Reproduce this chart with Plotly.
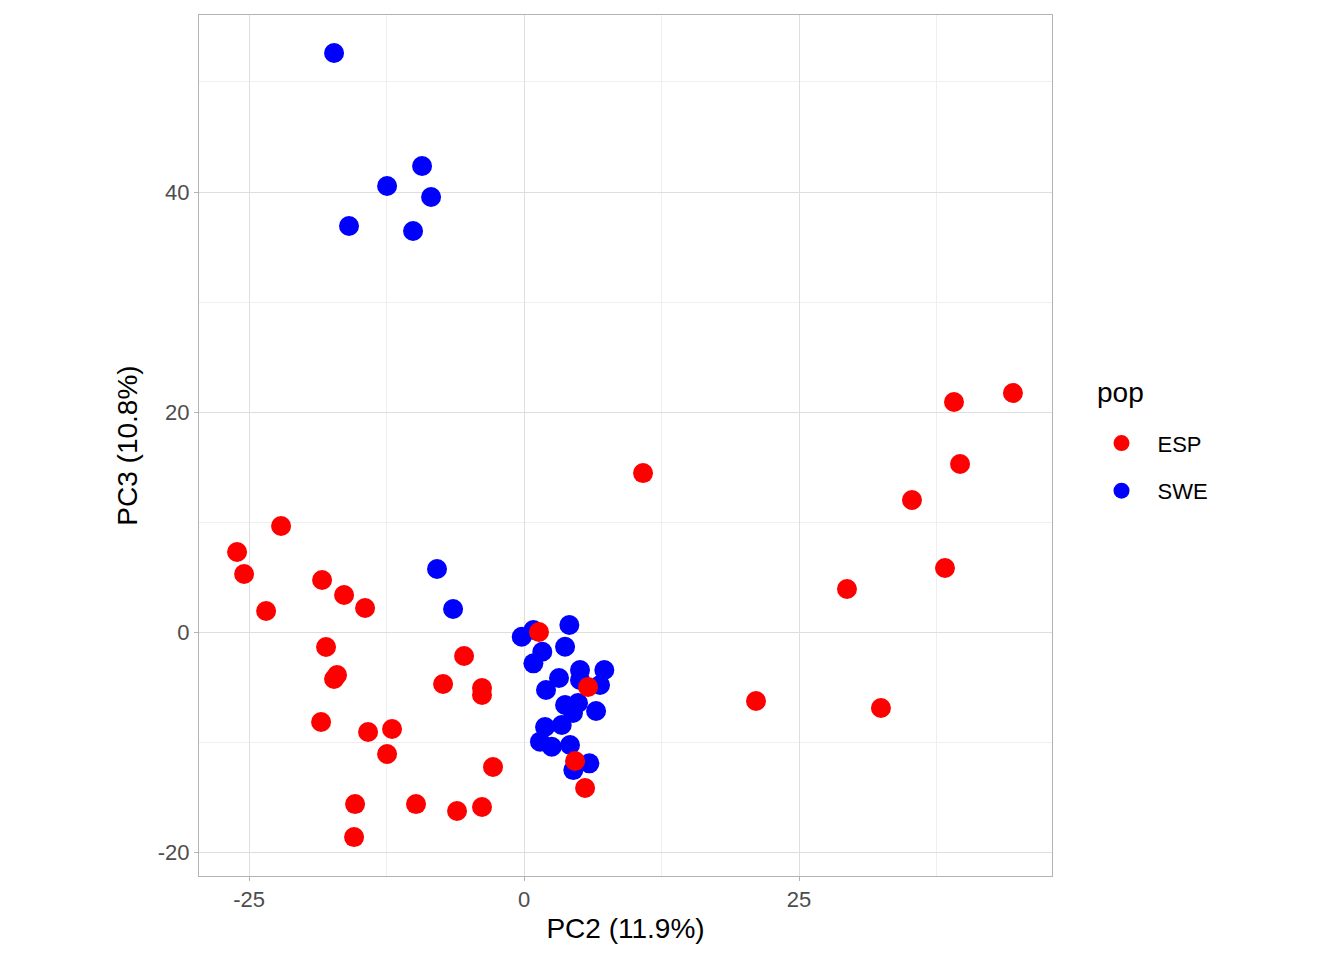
import plotly.graph_objects as go

# PCA scores
esp_pc2 = [44.45, 39.09, 39.64, 10.82, 35.27, 38.27, 29.36, 21.09, 32.45,
           -26.09, -22.09, -25.45, -18.36, -16.36, -23.45, -14.45, -18.0,
           -5.45, -17.0, -17.27, -7.36, -3.82, -3.82, -18.45, -14.18, -12.0,
           -12.45, -2.82, -15.36, -9.82, -6.09, -3.82, -15.45, 1.36, 5.82,
           4.64, 5.55]
esp_pc3 = [21.73, 20.91, 15.27, 14.45, 12.0, 5.82, 3.91, -6.27, -6.91,
           7.27, 9.64, 5.27, 4.73, 3.36, 1.91, 2.18, -1.36,
           -2.18, -3.91, -4.27, -4.73, -5.09, -5.73, -8.18, -9.09, -8.82,
           -11.09, -12.27, -15.64, -15.64, -16.27, -15.91, -18.64, 0.0, -5.0,
           -11.73, -14.18]

swe_pc2 = [-17.27, -9.27, -12.45, -8.45, -15.91, -10.09, -7.91, -6.45,
           -0.21, 0.85, 4.12, 3.73, 1.66, 0.85, 5.09, 7.3, 3.18, 2.0, 6.91,
           5.09, 3.73, 4.45, 6.55, 4.91, 1.91, 3.43, 1.45, 2.52, 4.18, 5.94,
           4.48]
swe_pc3 = [52.64, 42.36, 40.55, 39.55, 36.91, 36.45, 5.73, 2.09,
           -0.43, 0.18, 0.64, -1.34, -1.79, -2.85, -3.45, -3.45, -4.18, -5.27,
           -4.82, -4.36, -6.64, -7.36, -7.18, -6.45, -8.64, -8.45, -9.97,
           -10.43, -10.27, -11.94, -12.55]

fig = go.Figure()
fig.add_trace(go.Scatter(x=swe_pc2, y=swe_pc3, mode='markers', name='SWE',
                         marker=dict(color='#0000FF', size=20), showlegend=False))
fig.add_trace(go.Scatter(x=esp_pc2, y=esp_pc3, mode='markers', name='ESP',
                         legendgroup='esp',
                         marker=dict(color='#FF0000', size=20)))
# legend entry for SWE so ESP is listed first
fig.add_trace(go.Scatter(x=[None], y=[None], mode='markers', name='SWE',
                         legendgroup='swe',
                         marker=dict(color='#0000FF', size=20)))

axis_common = dict(showgrid=True, gridcolor='#DEDEDE', gridwidth=1,
                   zeroline=False, showline=True, linecolor='#B3B3B3',
                   linewidth=1, mirror=True, ticks='outside', ticklen=4,
                   tickcolor='#B3B3B3',
                   tickfont=dict(family='Liberation Sans', size=22, color='#4D4D4D'))

fig.update_layout(
    width=1344, height=960,
    plot_bgcolor='white', paper_bgcolor='white',
    margin=dict(l=191, r=300, t=7, b=92),
    font=dict(family='Liberation Sans'),
    xaxis=dict(range=[-29.55, 48.0], tickvals=[-25, 0, 25],
               ticktext=['-25', '0', '25'],
               minor=dict(tickvals=[-12.5, 12.5, 37.5], showgrid=True,
                          gridcolor='#EFEFEF', gridwidth=0.6, ticks=''),
               title=dict(text='PC2 (11.9%)', font=dict(size=28, color='black'),
                          standoff=6),
               **axis_common),
    yaxis=dict(range=[-22.18, 56.09], tickvals=[-20, 0, 20, 40],
               ticktext=['-20', '0', '20', '40'],
               minor=dict(tickvals=[-10, 10, 30, 50], showgrid=True,
                          gridcolor='#EFEFEF', gridwidth=0.6, ticks=''),
               title=dict(text='PC3 (10.8%)', font=dict(size=28, color='black'),
                          standoff=12),
               **axis_common),
    legend=dict(font=dict(size=22, color='black'),
                x=1.0393, xanchor='left', y=0.527, yanchor='top',
                tracegroupgap=16, itemsizing='trace', itemwidth=62),
)

# legend title placed separately to get ggplot's spacing
fig.add_annotation(text='pop', xref='paper', yref='paper', x=1.0505, y=0.561,
                   xanchor='left', yanchor='middle', showarrow=False,
                   font=dict(size=28, color='black'))

fig.write_html("out.html")
